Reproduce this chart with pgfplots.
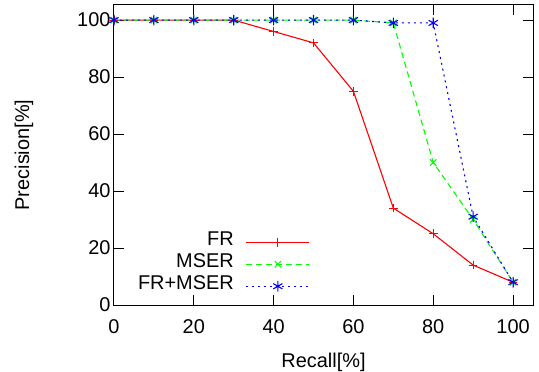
\documentclass[border=0pt]{standalone}
\usepackage{pgfplots}
\pgfplotsset{compat=1.18}
\usepackage{fontspec}
\setmainfont{Liberation Sans}
\definecolor{gpred}{RGB}{255,0,0}
\definecolor{gpgreen}{RGB}{0,255,0}
\definecolor{gpblue}{RGB}{0,0,255}
\begin{document}
\begin{tikzpicture}
\begin{axis}[
  scale only axis, width=419bp, height=300bp,
  xmin=0, xmax=105, ymin=0, ymax=105.3,
  xtick={0,20,...,100}, ytick={0,20,...,100},
  tick align=inside, major tick length=10bp,
  axis line style={line width=1bp},
  every tick/.style={line width=1bp, black},
  font=\fontsize{20}{24}\selectfont,
  /pgf/number format/assume math mode=true,
  xticklabel style={yshift=-11bp},
  xlabel={Recall[\%]}, ylabel={Precision[\%]},
  every axis x label/.style={at={(axis description cs:0.5,0)}, anchor=base, yshift=-62bp},
  every axis y label/.style={at={(axis description cs:-0.2148,0.5)}, rotate=90, anchor=center},
  clip=false,
  legend plot pos=right, legend cell align=right,
  legend style={draw=none, fill=none, at={(0.468,0.2465)}, anchor=north east,
     inner sep=0pt, row sep=0pt, column sep=12bp,
     nodes={inner sep=0pt, text height=14bp, text depth=8bp}},
  legend image code/.code={\draw[mark repeat=2, mark phase=2, #1] plot coordinates {(0bp,0bp) (31.5bp,0bp) (63bp,0bp)};},
]
\addplot[gpred, line width=1.1bp, mark=+, mark size=4.3bp, mark options={solid}] coordinates {
(0,100) (10,100) (20,100) (30,100) (40,96) (50,92) (60,75) (70,34) (80,25) (90,14) (100,8)};
\addlegendentry{FR}
\addplot[gpgreen, line width=1.1bp, dash pattern=on 6bp off 4bp, mark=x, mark size=4.5bp, mark options={solid}] coordinates {
(0,100) (10,100) (20,100) (30,100) (40,100) (50,100) (60,100) (70,99) (80,50) (90,30) (100,8)};
\addlegendentry{MSER}
\addplot[gpblue, line width=1.1bp, dash pattern=on 2bp off 4bp, mark=asterisk, mark size=5.3bp, mark options={solid}] coordinates {
(0,100) (10,100) (20,100) (30,100) (40,100) (50,100) (60,100) (70,99) (80,99) (90,31) (100,8)};
\addlegendentry{FR+MSER}
\end{axis}
\pgfresetboundingbox
\path[use as bounding box] ([xshift=-114bp,yshift=-67bp]current axis.south west) rectangle ([xshift=6bp,yshift=5bp]current axis.north east);
\end{tikzpicture}
\end{document}
